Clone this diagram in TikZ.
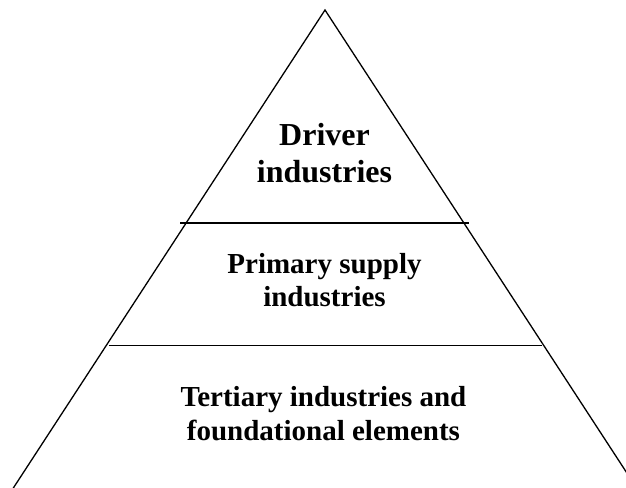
\documentclass[tikz,border=0pt]{standalone}
\usepackage{fontspec}
\setmainfont{Liberation Serif}

\begin{document}
\begin{tikzpicture}[x=1pt,y=-1pt,
		tier/.style={font=\bfseries\fontsize{29}{33.5}\selectfont, align=center, inner sep=0pt},
		side/.style={black, line width=1.3pt},
		divider/.style={black, line width=1.8pt}]
			      % Fix the page to the size of the reference
			      \useasboundingbox (0,0) rectangle (626,487);
			      \clip (0,0) rectangle (626,487);
			      % Corners of the pyramid (the base runs off the page)
			      \coordinate (apex) at (325,10);
			      \coordinate (bl) at (5.5,500);
			      \coordinate (br) at (644.5,500);
			      \draw[side] (bl) -- (apex) -- (br);
			      % Two dividing lines between the tiers
			      \coordinate (d1l) at (180,223);
			      \coordinate (d1r) at (469,223);
			      \coordinate (d2l) at (109,345.5);
			      \coordinate (d2r) at (542,345.5);
			      \draw[divider] (d1l) -- (d1r);
			      \draw[divider] (d2l) -- (d2r);
			      % Labels of the tiers
			      \node[tier, font=\bfseries\fontsize{32}{37}\selectfont] (driver) at (324.5,153) {Driver\\industries};
			      \node[tier] (primary) at (324.5,280) {Primary supply\\industries};
			      \node[tier] (tertiary) at (323.5,413.5) {Tertiary industries and\\foundational elements};
		      \end{tikzpicture}
\end{document}
